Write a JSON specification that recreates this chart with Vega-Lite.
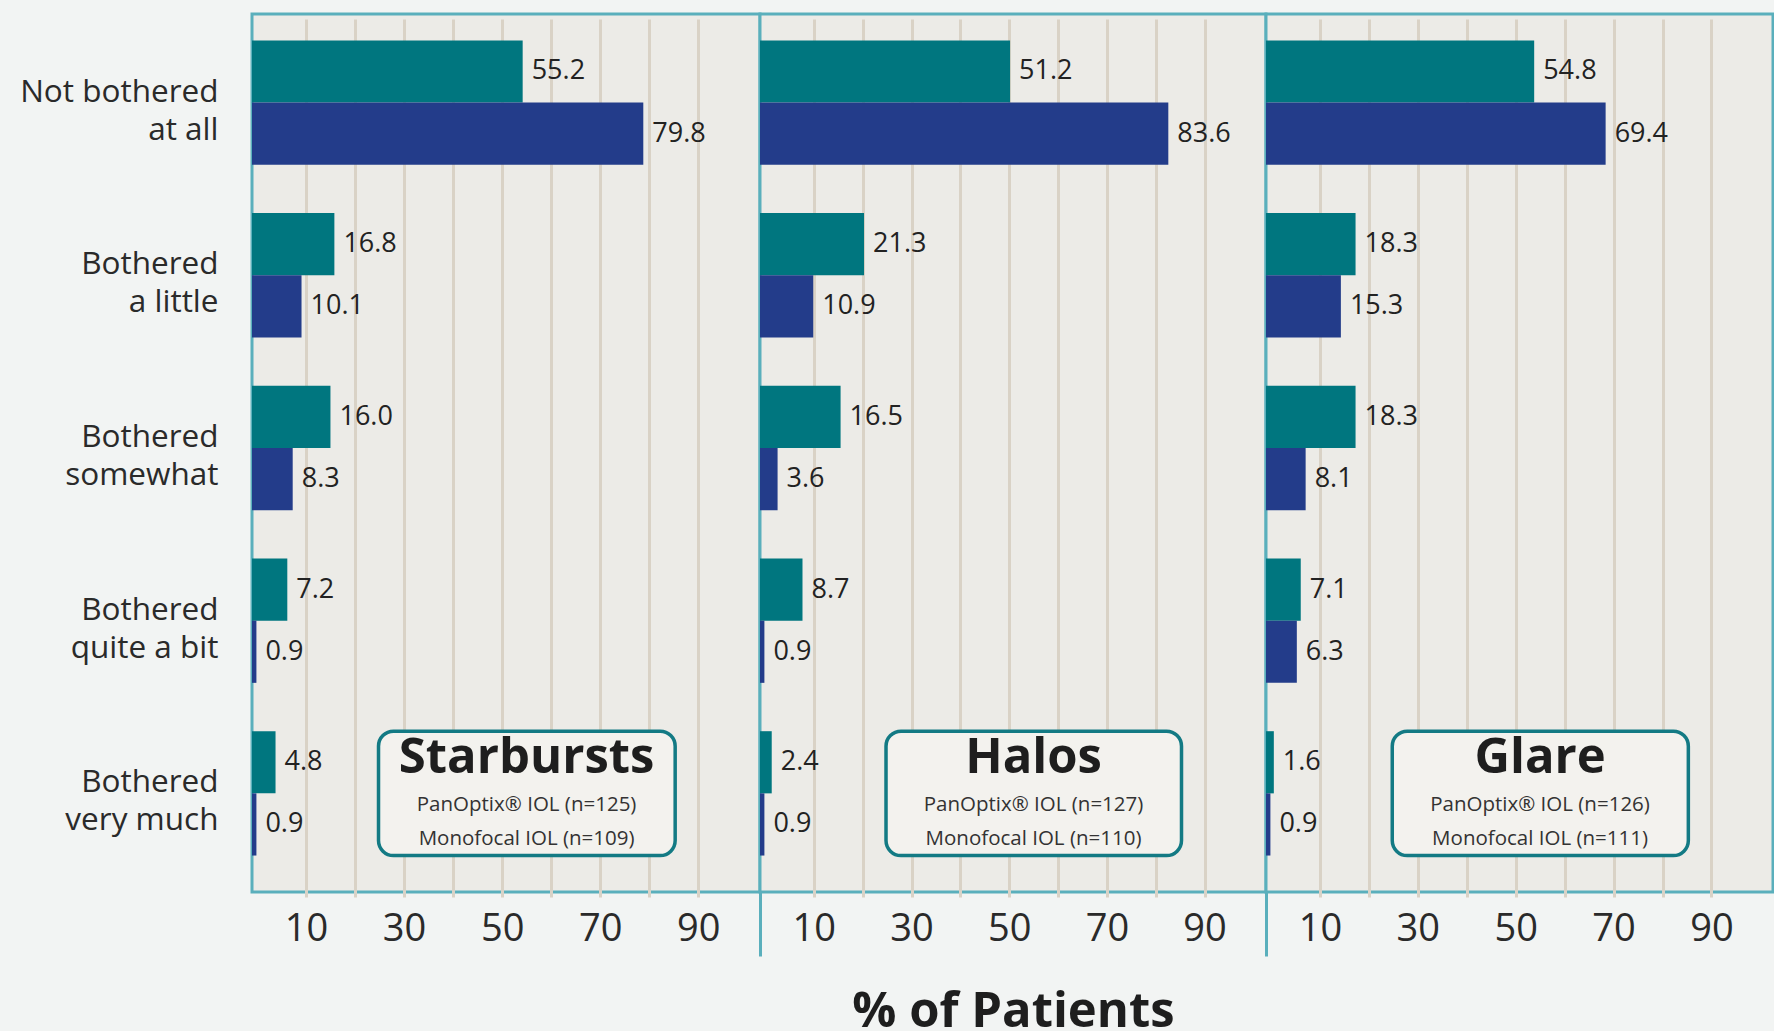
{
  "$schema": "https://vega.github.io/schema/vega-lite/v6.json",
  "background": "#F2F4F3",
  "padding": {"left": 5, "top": 12, "right": 0, "bottom": 0},
  "spacing": 0,
  "bounds": "flush",
  "datasets": {
    "bars": [
      {"panel": "Starbursts", "category": "Not bothered at all", "series": "PanOptix", "value": 55.2},
      {"panel": "Starbursts", "category": "Not bothered at all", "series": "Monofocal", "value": 79.8},
      {"panel": "Starbursts", "category": "Bothered a little", "series": "PanOptix", "value": 16.8},
      {"panel": "Starbursts", "category": "Bothered a little", "series": "Monofocal", "value": 10.1},
      {"panel": "Starbursts", "category": "Bothered somewhat", "series": "PanOptix", "value": 16.0},
      {"panel": "Starbursts", "category": "Bothered somewhat", "series": "Monofocal", "value": 8.3},
      {"panel": "Starbursts", "category": "Bothered quite a bit", "series": "PanOptix", "value": 7.2},
      {"panel": "Starbursts", "category": "Bothered quite a bit", "series": "Monofocal", "value": 0.9},
      {"panel": "Starbursts", "category": "Bothered very much", "series": "PanOptix", "value": 4.8},
      {"panel": "Starbursts", "category": "Bothered very much", "series": "Monofocal", "value": 0.9},
      {"panel": "Halos", "category": "Not bothered at all", "series": "PanOptix", "value": 51.2},
      {"panel": "Halos", "category": "Not bothered at all", "series": "Monofocal", "value": 83.6},
      {"panel": "Halos", "category": "Bothered a little", "series": "PanOptix", "value": 21.3},
      {"panel": "Halos", "category": "Bothered a little", "series": "Monofocal", "value": 10.9},
      {"panel": "Halos", "category": "Bothered somewhat", "series": "PanOptix", "value": 16.5},
      {"panel": "Halos", "category": "Bothered somewhat", "series": "Monofocal", "value": 3.6},
      {"panel": "Halos", "category": "Bothered quite a bit", "series": "PanOptix", "value": 8.7},
      {"panel": "Halos", "category": "Bothered quite a bit", "series": "Monofocal", "value": 0.9},
      {"panel": "Halos", "category": "Bothered very much", "series": "PanOptix", "value": 2.4},
      {"panel": "Halos", "category": "Bothered very much", "series": "Monofocal", "value": 0.9},
      {"panel": "Glare", "category": "Not bothered at all", "series": "PanOptix", "value": 54.8},
      {"panel": "Glare", "category": "Not bothered at all", "series": "Monofocal", "value": 69.4},
      {"panel": "Glare", "category": "Bothered a little", "series": "PanOptix", "value": 18.3},
      {"panel": "Glare", "category": "Bothered a little", "series": "Monofocal", "value": 15.3},
      {"panel": "Glare", "category": "Bothered somewhat", "series": "PanOptix", "value": 18.3},
      {"panel": "Glare", "category": "Bothered somewhat", "series": "Monofocal", "value": 8.1},
      {"panel": "Glare", "category": "Bothered quite a bit", "series": "PanOptix", "value": 7.1},
      {"panel": "Glare", "category": "Bothered quite a bit", "series": "Monofocal", "value": 6.3},
      {"panel": "Glare", "category": "Bothered very much", "series": "PanOptix", "value": 1.6},
      {"panel": "Glare", "category": "Bothered very much", "series": "Monofocal", "value": 0.9}
    ],
    "boxes": [
      {"panel": "Starbursts", "pan": "PanOptix® IOL (n=125)", "mono": "Monofocal IOL (n=109)"},
      {"panel": "Halos", "pan": "PanOptix® IOL (n=127)", "mono": "Monofocal IOL (n=110)"},
      {"panel": "Glare", "pan": "PanOptix® IOL (n=126)", "mono": "Monofocal IOL (n=111)"}
    ]
  },
  "hconcat": [
    {
      "width": 508, "height": 878,
      "layer": [
        {
          "data": {"name": "bars"},
          "transform": [{"filter": "datum.panel == 'Starbursts'"}],
          "mark": {"type": "bar"},
          "encoding": {
            "y": {"field": "category", "type": "nominal", "sort": null,
              "scale": {"domain": ["Not bothered at all", "Bothered a little", "Bothered somewhat", "Bothered quite a bit", "Bothered very much"], "paddingInner": 0.28, "paddingOuter": 0.182, "align": 0.42},
              "axis": {"title": null, "ticks": false, "domain": false, "grid": false, "labelFontSize": 31.5, "labelFont": "Open Sans", "labelColor": "#2a2a2a", "labelPadding": 34, "labelLineHeight": 38, "labelLimit": 400, "minExtent": 245, "labelOffset": -10,
                "labelExpr": "[slice(datum.label, 0, indexof(lower(datum.label), 'bothered') + 8), slice(datum.label, indexof(lower(datum.label), 'bothered') + 9)]"}},
            "yOffset": {"field": "series", "type": "nominal", "sort": ["PanOptix", "Monofocal"], "scale": {"paddingInner": 0, "paddingOuter": 0}},
            "x": {"field": "value", "type": "quantitative", "scale": {"domain": [0, 103.6], "nice": false},
              "axis": {"title": null, "values": [10, 20, 30, 40, 50, 60, 70, 80, 90], "labelExpr": "datum.value % 20 == 10 ? datum.label : ''", "grid": true, "ticks": false, "translate": 5.5, "labelPadding": 13}},
            "color": {"field": "series", "type": "nominal", "scale": {"domain": ["PanOptix", "Monofocal"], "range": ["#00767F", "#233C8A"]}, "legend": null}
          }
        },
        {
          "data": {"name": "bars"},
          "transform": [{"filter": "datum.panel == 'Starbursts'"}],
          "mark": {"type": "text", "align": "left", "baseline": "middle", "dx": 9, "fontSize": 27, "font": "Open Sans", "color": "#222222"},
          "encoding": {
            "y": {"field": "category", "type": "nominal", "sort": null},
            "yOffset": {"field": "series", "type": "nominal", "sort": ["PanOptix", "Monofocal"]},
            "x": {"field": "value", "type": "quantitative"},
            "text": {"field": "value", "type": "quantitative", "format": ".1f"}
          }
        },
        {
          "data": {"name": "boxes"},
          "transform": [{"filter": "datum.panel == 'Starbursts'"}],
          "mark": {"type": "rect", "fill": "#F3F2EE", "stroke": "#137A84", "strokeWidth": 3.5, "cornerRadius": 15},
          "encoding": {"y": {"datum": "Bothered very much"}, "x": {"datum": 25.8}, "x2": {"datum": 86.3}}
        },
        {
          "data": {"name": "boxes"},
          "transform": [{"filter": "datum.panel == 'Starbursts'"}],
          "mark": {"type": "text", "baseline": "alphabetic", "align": "center", "dy": -20, "fontSize": 49, "fontWeight": "bold", "font": "Open Sans", "color": "#1e1e1e"},
          "encoding": {"y": {"datum": "Bothered very much"}, "x": {"datum": 56}, "text": {"field": "panel"}}
        },
        {
          "data": {"name": "boxes"},
          "transform": [{"filter": "datum.panel == 'Starbursts'"}],
          "mark": {"type": "text", "baseline": "alphabetic", "align": "center", "dy": 18, "fontSize": 20.5, "font": "Open Sans", "color": "#333333"},
          "encoding": {"y": {"datum": "Bothered very much"}, "x": {"datum": 56}, "text": {"field": "pan"}}
        },
        {
          "data": {"name": "boxes"},
          "transform": [{"filter": "datum.panel == 'Starbursts'"}],
          "mark": {"type": "text", "baseline": "alphabetic", "align": "center", "dy": 52, "fontSize": 20.5, "font": "Open Sans", "color": "#333333"},
          "encoding": {"y": {"datum": "Bothered very much"}, "x": {"datum": 56}, "text": {"field": "mono"}}
        }
      ]
    },
    {
      "width": 506, "height": 878,
      "resolve": {"axis": {"x": "independent"}},
      "layer": [
        {
          "data": {"name": "bars"},
          "transform": [{"filter": "datum.panel == 'Halos'"}],
          "mark": {"type": "bar"},
          "encoding": {
            "y": {"field": "category", "type": "nominal", "sort": null,
              "scale": {"domain": ["Not bothered at all", "Bothered a little", "Bothered somewhat", "Bothered quite a bit", "Bothered very much"], "paddingInner": 0.28, "paddingOuter": 0.182, "align": 0.42},
              "axis": null},
            "yOffset": {"field": "series", "type": "nominal", "sort": ["PanOptix", "Monofocal"], "scale": {"paddingInner": 0, "paddingOuter": 0}},
            "x": {"field": "value", "type": "quantitative", "scale": {"domain": [0, 103.6], "nice": false},
              "axis": {"title": null, "orient": "bottom", "values": [10, 20, 30, 40, 50, 60, 70, 80, 90], "labelExpr": "datum.value % 20 == 10 ? datum.label : ''", "grid": true, "ticks": false, "translate": 5.5, "labelPadding": 13}},
            "color": {"field": "series", "type": "nominal", "scale": {"domain": ["PanOptix", "Monofocal"], "range": ["#00767F", "#233C8A"]}, "legend": null}
          }
        },
        {
          "data": {"name": "bars"},
          "transform": [{"filter": "datum.panel == 'Halos'"}],
          "mark": {"type": "text", "align": "left", "baseline": "middle", "dx": 9, "fontSize": 27, "font": "Open Sans", "color": "#222222"},
          "encoding": {
            "y": {"field": "category", "type": "nominal", "sort": null},
            "yOffset": {"field": "series", "type": "nominal", "sort": ["PanOptix", "Monofocal"]},
            "x": {"field": "value", "type": "quantitative",
              "axis": {"title": "% of Patients", "orient": "bottom", "values": [0], "labels": false, "grid": false, "ticks": true, "tickSize": 64, "tickWidth": 3, "tickColor": "#5AAFBC", "translate": 0.5, "titlePadding": 30}},
            "text": {"field": "value", "type": "quantitative", "format": ".1f"}
          }
        },
        {
          "data": {"name": "boxes"},
          "transform": [{"filter": "datum.panel == 'Halos'"}],
          "mark": {"type": "rect", "fill": "#F3F2EE", "stroke": "#137A84", "strokeWidth": 3.5, "cornerRadius": 15},
          "encoding": {"y": {"datum": "Bothered very much"}, "x": {"datum": 25.8, "axis": null}, "x2": {"datum": 86.3}}
        },
        {
          "data": {"name": "boxes"},
          "transform": [{"filter": "datum.panel == 'Halos'"}],
          "mark": {"type": "text", "baseline": "alphabetic", "align": "center", "dy": -20, "fontSize": 49, "fontWeight": "bold", "font": "Open Sans", "color": "#1e1e1e"},
          "encoding": {"y": {"datum": "Bothered very much"}, "x": {"datum": 56, "axis": null}, "text": {"field": "panel"}}
        },
        {
          "data": {"name": "boxes"},
          "transform": [{"filter": "datum.panel == 'Halos'"}],
          "mark": {"type": "text", "baseline": "alphabetic", "align": "center", "dy": 18, "fontSize": 20.5, "font": "Open Sans", "color": "#333333"},
          "encoding": {"y": {"datum": "Bothered very much"}, "x": {"datum": 56, "axis": null}, "text": {"field": "pan"}}
        },
        {
          "data": {"name": "boxes"},
          "transform": [{"filter": "datum.panel == 'Halos'"}],
          "mark": {"type": "text", "baseline": "alphabetic", "align": "center", "dy": 52, "fontSize": 20.5, "font": "Open Sans", "color": "#333333"},
          "encoding": {"y": {"datum": "Bothered very much"}, "x": {"datum": 56, "axis": null}, "text": {"field": "mono"}}
        }
      ]
    },
    {
      "width": 507, "height": 878,
      "resolve": {"axis": {"x": "independent"}},
      "layer": [
        {
          "data": {"name": "bars"},
          "transform": [{"filter": "datum.panel == 'Glare'"}],
          "mark": {"type": "bar"},
          "encoding": {
            "y": {"field": "category", "type": "nominal", "sort": null,
              "scale": {"domain": ["Not bothered at all", "Bothered a little", "Bothered somewhat", "Bothered quite a bit", "Bothered very much"], "paddingInner": 0.28, "paddingOuter": 0.182, "align": 0.42},
              "axis": null},
            "yOffset": {"field": "series", "type": "nominal", "sort": ["PanOptix", "Monofocal"], "scale": {"paddingInner": 0, "paddingOuter": 0}},
            "x": {"field": "value", "type": "quantitative", "scale": {"domain": [0, 103.6], "nice": false},
              "axis": {"title": null, "orient": "bottom", "values": [10, 20, 30, 40, 50, 60, 70, 80, 90], "labelExpr": "datum.value % 20 == 10 ? datum.label : ''", "grid": true, "ticks": false, "translate": 5.5, "labelPadding": 13}},
            "color": {"field": "series", "type": "nominal", "scale": {"domain": ["PanOptix", "Monofocal"], "range": ["#00767F", "#233C8A"]}, "legend": null}
          }
        },
        {
          "data": {"name": "bars"},
          "transform": [{"filter": "datum.panel == 'Glare'"}],
          "mark": {"type": "text", "align": "left", "baseline": "middle", "dx": 9, "fontSize": 27, "font": "Open Sans", "color": "#222222"},
          "encoding": {
            "y": {"field": "category", "type": "nominal", "sort": null},
            "yOffset": {"field": "series", "type": "nominal", "sort": ["PanOptix", "Monofocal"]},
            "x": {"field": "value", "type": "quantitative",
              "axis": {"title": null, "orient": "bottom", "values": [0], "labels": false, "grid": false, "ticks": true, "tickSize": 64, "tickWidth": 3, "tickColor": "#5AAFBC", "translate": 0.5}},
            "text": {"field": "value", "type": "quantitative", "format": ".1f"}
          }
        },
        {
          "data": {"name": "boxes"},
          "transform": [{"filter": "datum.panel == 'Glare'"}],
          "mark": {"type": "rect", "fill": "#F3F2EE", "stroke": "#137A84", "strokeWidth": 3.5, "cornerRadius": 15},
          "encoding": {"y": {"datum": "Bothered very much"}, "x": {"datum": 25.8, "axis": null}, "x2": {"datum": 86.3}}
        },
        {
          "data": {"name": "boxes"},
          "transform": [{"filter": "datum.panel == 'Glare'"}],
          "mark": {"type": "text", "baseline": "alphabetic", "align": "center", "dy": -20, "fontSize": 49, "fontWeight": "bold", "font": "Open Sans", "color": "#1e1e1e"},
          "encoding": {"y": {"datum": "Bothered very much"}, "x": {"datum": 56, "axis": null}, "text": {"field": "panel"}}
        },
        {
          "data": {"name": "boxes"},
          "transform": [{"filter": "datum.panel == 'Glare'"}],
          "mark": {"type": "text", "baseline": "alphabetic", "align": "center", "dy": 18, "fontSize": 20.5, "font": "Open Sans", "color": "#333333"},
          "encoding": {"y": {"datum": "Bothered very much"}, "x": {"datum": 56, "axis": null}, "text": {"field": "pan"}}
        },
        {
          "data": {"name": "boxes"},
          "transform": [{"filter": "datum.panel == 'Glare'"}],
          "mark": {"type": "text", "baseline": "alphabetic", "align": "center", "dy": 52, "fontSize": 20.5, "font": "Open Sans", "color": "#333333"},
          "encoding": {"y": {"datum": "Bothered very much"}, "x": {"datum": 56, "axis": null}, "text": {"field": "mono"}}
        }
      ]
    }
  ],
  "config": {
    "view": {"stroke": "#5AAFBC", "strokeWidth": 3, "fill": "#ECEBE7"},
    "bar": {"stroke": null},
    "axisX": {
      "domain": false,
      "gridColor": "#D9D2C6",
      "gridWidth": 3,
      "labelFontSize": 38,
      "labelFont": "Open Sans",
      "labelColor": "#2a2a2a",
      "labelFlush": false,
      "labelOverlap": false,
      "titleFont": "Open Sans",
      "titleFontSize": 49,
      "titleFontWeight": "bold",
      "titleColor": "#1e1e1e"
    }
  }
}
